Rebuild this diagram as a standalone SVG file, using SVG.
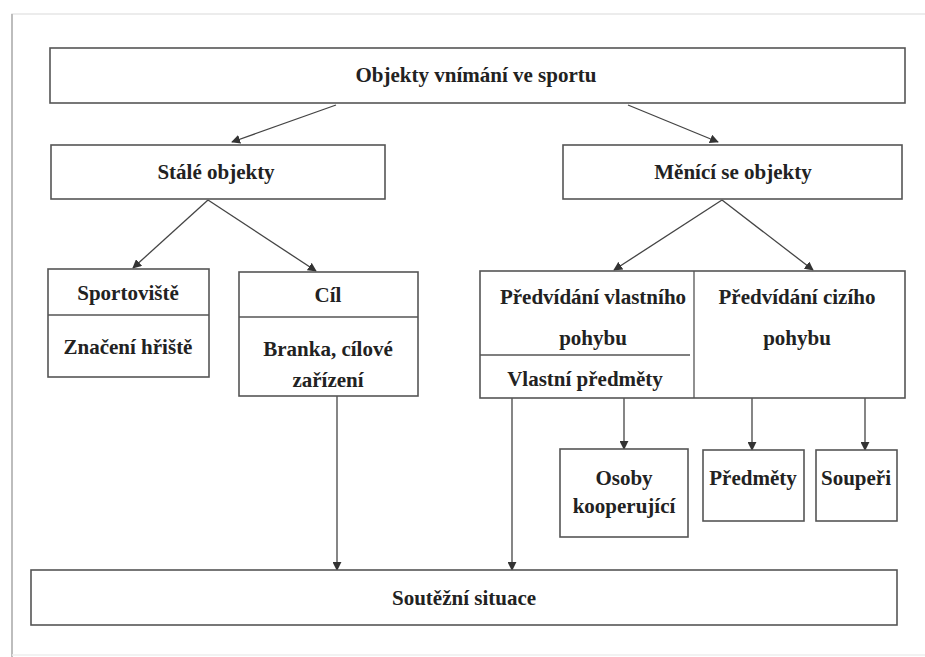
<svg xmlns="http://www.w3.org/2000/svg" width="925" height="657" viewBox="0 0 925 657">
  <defs>
    <marker id="arr" viewBox="0 0 10 10" refX="9" refY="5" markerWidth="9" markerHeight="9" markerUnits="userSpaceOnUse" orient="auto">
      <path d="M0,0 L10,5 L0,10 z" fill="#333"/>
    </marker>
    <style>
      .box { fill: #fff; stroke: #555; stroke-width: 1.6; }
      .div { fill: none; stroke: #555; stroke-width: 1.3; }
      .edge { fill: none; stroke: #444; stroke-width: 1.3; marker-end: url(#arr); }
      .lbl { font-weight: bold; font-size: 21px; fill: #222; text-anchor: middle; }
      .title { font-size: 21px; }
    </style>
  </defs>

  <rect width="925" height="657" fill="#fff"/>
  <!-- page frame -->
  <path d="M12,657 V14 H925" fill="none" stroke="#e6e6e6" stroke-width="1.5"/>
  <path d="M12,14 V657" fill="none" stroke="#bdbdbd" stroke-width="2"/>
  <path d="M12,655 H925" fill="none" stroke="#eeeeee" stroke-width="1.5"/>

  <g id="connectors">
    <path class="edge" d="M336,105 L232,142"/>
    <path class="edge" d="M628,105 L718,142"/>
    <path class="edge" d="M208,200 L133,268"/>
    <path class="edge" d="M208,200 L316,271"/>
    <path class="edge" d="M722,200 L614,270"/>
    <path class="edge" d="M722,200 L813,270"/>
    <path class="edge" d="M624,398 L624,449"/>
    <path class="edge" d="M752,398 L752,450"/>
    <path class="edge" d="M865,398 L865,450"/>
    <path class="edge" d="M337,396 L337,570"/>
    <path class="edge" d="M512,398 L512,570"/>
  </g>

  <g font-family="Liberation Serif, Times New Roman, serif">
  <g id="node-root">
    <rect class="box" x="50" y="48" width="855" height="55"/>
    <text class="lbl title" x="476" y="82">Objekty vnímání ve sportu</text>
  </g>

  <g id="node-stale">
    <rect class="box" x="51" y="145" width="334" height="54"/>
    <text class="lbl" x="216" y="179">Stálé objekty</text>
  </g>

  <g id="node-menici">
    <rect class="box" x="563" y="145" width="339" height="54"/>
    <text class="lbl" x="733" y="179">Měnící se objekty</text>
  </g>

  <g id="node-sportoviste">
    <rect class="box" x="48" y="269" width="161" height="108"/>
    <line class="div" x1="48" y1="315" x2="209" y2="315"/>
    <text class="lbl" x="128" y="300">Sportoviště</text>
    <text class="lbl" x="128" y="354">Značení hřiště</text>
  </g>

  <g id="node-cil">
    <rect class="box" x="239" y="272" width="179" height="124"/>
    <line class="div" x1="239" y1="317" x2="418" y2="317"/>
    <text class="lbl" x="328" y="302">Cíl</text>
    <text class="lbl" x="328" y="356">Branka, cílové</text>
    <text class="lbl" x="328" y="387">zařízení</text>
  </g>

  <g id="node-predvidani">
    <rect class="box" x="480" y="271" width="425" height="127"/>
    <line class="div" x1="694" y1="271" x2="694" y2="398"/>
    <line class="div" x1="480" y1="355" x2="690" y2="355"/>
    <text class="lbl" x="593" y="304">Předvídání vlastního</text>
    <text class="lbl" x="593" y="345">pohybu</text>
    <text class="lbl" x="585" y="386">Vlastní předměty</text>
    <text class="lbl" x="797" y="304">Předvídání cizího</text>
    <text class="lbl" x="797" y="345">pohybu</text>
  </g>

  <g id="node-osoby">
    <rect class="box" x="560" y="449" width="128" height="88"/>
    <text class="lbl" x="624" y="485">Osoby</text>
    <text class="lbl" x="624" y="513">kooperující</text>
  </g>

  <g id="node-predmety">
    <rect class="box" x="703" y="450" width="101" height="71"/>
    <text class="lbl" x="753" y="485">Předměty</text>
  </g>

  <g id="node-souperi">
    <rect class="box" x="816" y="450" width="81" height="71"/>
    <text class="lbl" x="856" y="485">Soupeři</text>
  </g>

  <g id="node-soutezni">
    <rect class="box" x="31" y="570" width="866" height="55"/>
    <text class="lbl" x="464" y="605">Soutěžní situace</text>
  </g>
  </g>
</svg>
